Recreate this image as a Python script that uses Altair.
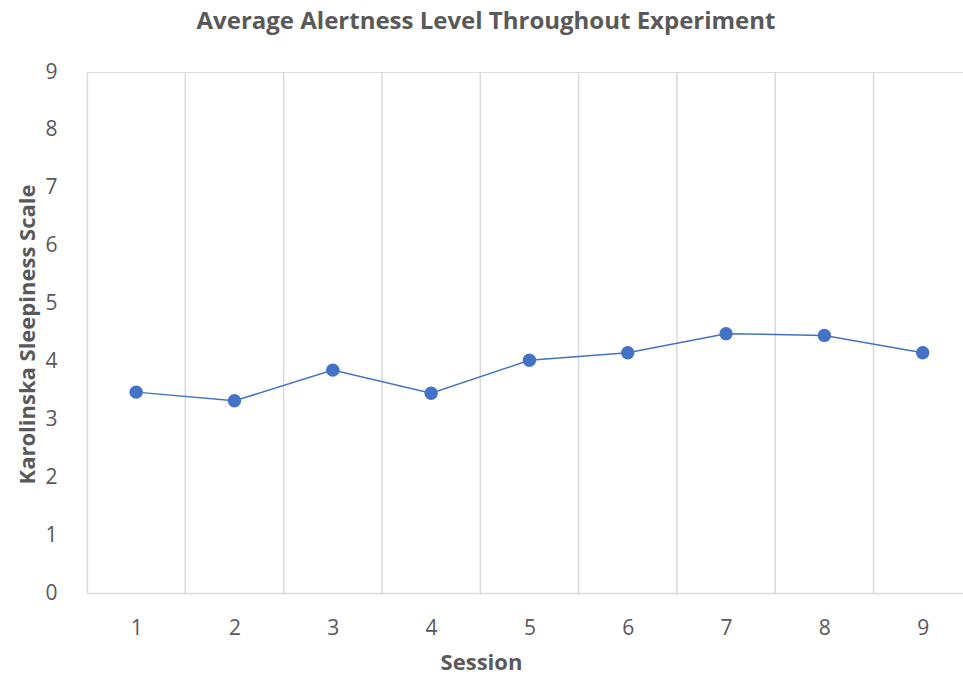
import altair as alt
import pandas as pd

sessions = [1, 2, 3, 4, 5, 6, 7, 8, 9]
kss_mean = [3.47, 3.32, 3.85, 3.45, 4.02, 4.15, 4.48, 4.45, 4.15]

y_ticks = [0, 1, 2, 3, 4, 5, 6, 7, 8, 9]

df = pd.DataFrame({"session": sessions, "kss": kss_mean})

FONT = "Open Sans"
TEXT_GREY = "#595959"
GRID_GREY = "#d9d9d9"
BLUE = "#4472C4"

x_scale = alt.Scale(domain=[0.5, 9.41], nice=False, zero=False)
y_scale = alt.Scale(domain=[0, 9], nice=False)

base = alt.Chart(df)

# category boundaries between sessions
dividers = base.transform_filter(
    alt.datum.session < 9
).transform_calculate(
    edge="datum.session + 0.5"
).mark_rule(color=GRID_GREY, strokeWidth=1.5).encode(
    x=alt.X("edge:Q", scale=x_scale),
    y=alt.value(0),
    y2=alt.value(521),
)

line = base.mark_line(color=BLUE, strokeWidth=1.5).encode(
    x=alt.X(
        "session:Q",
        scale=x_scale,
        axis=alt.Axis(
            values=sessions,
            format="d",
            grid=False,
            ticks=False,
            domainColor=GRID_GREY,
            domainWidth=1.5,
            labelFont=FONT,
            labelFontSize=21,
            labelColor=TEXT_GREY,
            labelPadding=24,
            title="Session",
            titleFont=FONT,
            titleFontSize=22,
            titleFontWeight="bold",
            titleColor=TEXT_GREY,
            titleX=394,
            titleY=69,
            titleBaseline="middle",
            titleAlign="center",
        ),
    ),
    y=alt.Y(
        "kss:Q",
        scale=y_scale,
        axis=alt.Axis(
            values=y_ticks,
            format="d",
            grid=False,
            ticks=False,
            domainColor=GRID_GREY,
            domainWidth=1.5,
            labelFont=FONT,
            labelFontSize=21,
            labelColor=TEXT_GREY,
            labelPadding=30,
            title="Karolinska Sleepiness Scale",
            titleFont=FONT,
            titleFontSize=22,
            titleFontWeight="bold",
            titleColor=TEXT_GREY,
            titleAngle=-90,
            titleX=-60,
            titleY=262,
            titleBaseline="middle",
            titleAlign="center",
        ),
    ),
)

points = base.mark_circle(color=BLUE, size=180, opacity=1).encode(
    x=alt.X("session:Q", scale=x_scale),
    y=alt.Y("kss:Q", scale=y_scale),
)

chart = alt.layer(dividers, line, points).properties(
    width=876,
    height=521,
    autosize=alt.AutoSizeParams(type="none"),
    padding={"left": 87, "top": 72, "right": 0, "bottom": 87},
    title=alt.TitleParams(
        "Average Alertness Level Throughout Experiment",
        font=FONT,
        fontSize=24,
        fontWeight="bold",
        color=TEXT_GREY,
        anchor="middle",
        dx=-39,
        offset=27,
    ),
).configure_view(stroke=None).configure(background="white")

chart.save("out.html", embed_options={"renderer": "svg", "actions": False})
